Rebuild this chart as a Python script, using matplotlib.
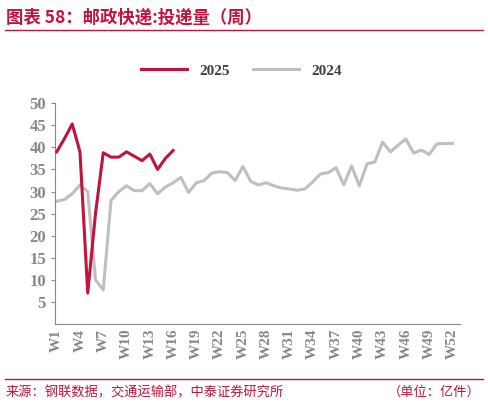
import matplotlib
matplotlib.use("Agg")
from matplotlib import pyplot as plt
import numpy as np

plt.rcParams['font.family'] = ['Noto Sans CJK SC', 'DejaVu Sans']

# datos
v2025 = [39, 42, 45.3, 39, 7, 25, 38.8, 37.8, 37.8, 39, 38, 37, 38.5, 35, 37.5, 39.3]
v2024 = [27.8, 28.2, 29.5, 31.5, 30, 10, 7.7, 28, 30, 31.3, 30.2, 30.2, 31.8, 29.5, 31, 32,
         33.2, 29.8, 32, 32.5, 34.2, 34.5, 34.3, 32.5, 35.7, 32.3, 31.5, 32, 31.3, 30.8,
         30.6, 30.3, 30.6, 32.2, 34, 34.3, 35.4, 31.5, 35.8, 31.3, 36.3, 36.7, 41.2, 39,
         40.5, 41.9, 38.7, 39.4, 38.4, 40.8, 40.9, 40.9]
semanas = ["W%d" % i for i in range(1, 53)]

fig = plt.figure(figsize=(4.88, 4.05), dpi=100)
ax = fig.add_axes([0.113, 0.2, 0.83, 0.545])

ax.plot(range(1, len(v2025) + 1), v2025, color='#C0143C', lw=2.2, label='2025', zorder=3)
ax.plot(range(1, len(v2024) + 1), v2024, color='#BFBFBF', lw=2.2, label='2024')

ax.set_ylim(0, 50)
ax.set_yticks(range(5, 51, 5))
ax.set_xlim(0.8, 53)
ax.set_xticks(range(1, 53, 3))
ax.set_xticklabels(semanas[::3], rotation=90, family='Liberation Serif', fontsize=11,
                   fontweight='bold', color='#404040')
for t in ax.get_yticklabels():
    t.set_family('Liberation Serif')
    t.set_fontsize(12)
    t.set_fontweight('bold')
    t.set_color('#404040')
for s in ['top', 'right']:
    ax.spines[s].set_visible(False)
ax.spines['left'].set_color('#888888')
ax.spines['bottom'].set_color('#888888')
ax.tick_params(colors='#888888', length=3)
ax.tick_params(axis='x', length=0)

leg = ax.legend(loc='upper center', bbox_to_anchor=(0.46, 1.24), ncol=2, frameon=False,
                handlelength=3, columnspacing=1.5, prop={'family': 'Liberation Serif', 'size': 11, 'weight': 'bold'})
for t in leg.get_texts():
    t.set_color('#404040')

fig.text(0.012, 0.945, "图表 58：邮政快递:投递量（周）", color='#C0143C', fontsize=12.5,
         fontweight='bold', style='italic')
fig.add_artist(plt.Line2D([0.01, 0.99], [0.925, 0.925], color='#C0143C', lw=1))
fig.add_artist(plt.Line2D([0.01, 0.99], [0.065, 0.065], color='#C0143C', lw=1))
fig.text(0.012, 0.022, "来源：钢联数据，交通运输部，中泰证券研究所", color='#C0143C', fontsize=9.5)
fig.text(0.985, 0.022, "（单位：亿件）", color='#C0143C', fontsize=9.5, ha='right')

fig.savefig('out.png', dpi=100)
